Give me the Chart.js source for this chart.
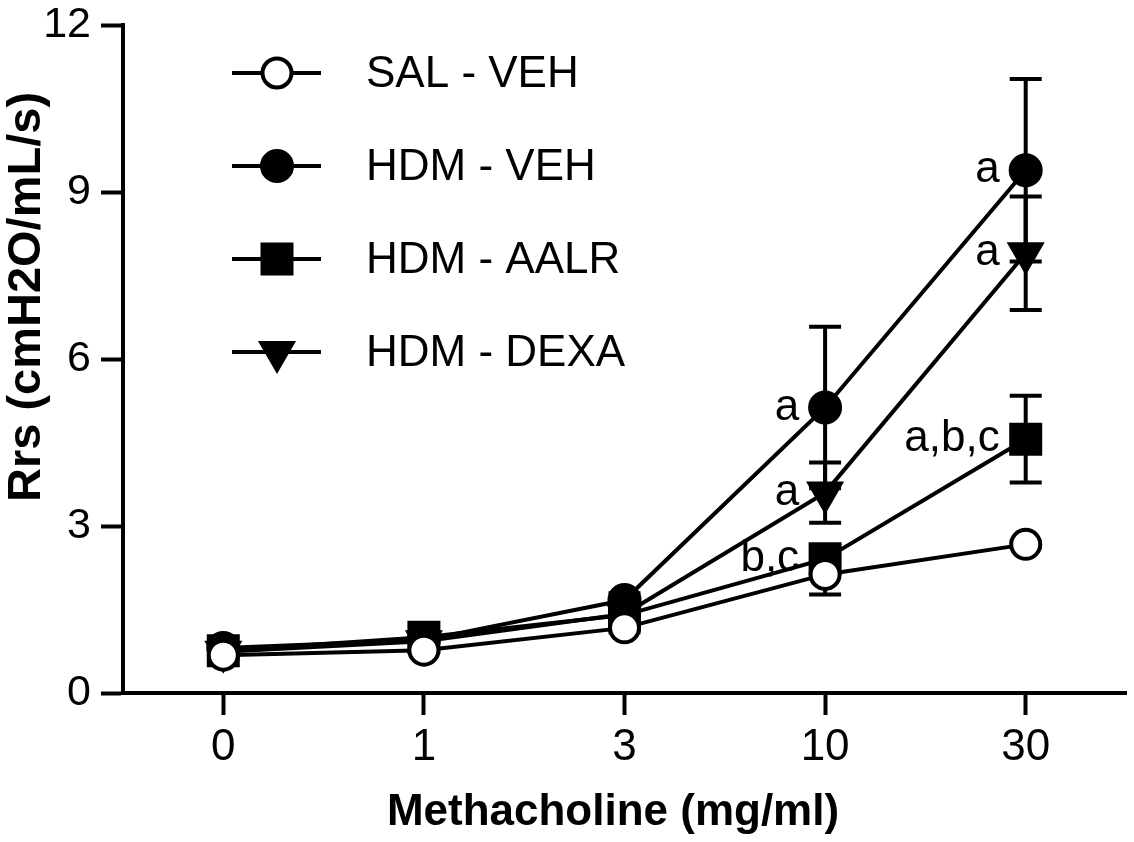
<!DOCTYPE html>
<html>
<head>
<meta charset="utf-8">
<title>Rrs vs Methacholine</title>
<script src="https://cdn.jsdelivr.net/npm/chart.js@4.4.1/dist/chart.umd.min.js"></script>
<style>
    html, body { margin: 0; padding: 0; background: #fff; }
    #wrap { width: 1134px; height: 842px; }
</style>
</head>
<body>
<div id="wrap"><canvas id="rrsChart" width="1134" height="842"></canvas></div>
<script>
// Data (mean and SEM per dose)
const doses = ['0', '1', '3', '10', '30'];
const yTicks = [0, 3, 6, 9, 12];

const salVeh = [0.68, 0.77, 1.17, 2.13, 2.67];
const salVehErr = [0.05, 0.05, 0.08, 0.36, 0.05];

const hdmVeh = [0.81, 0.95, 1.67, 5.13, 9.39];
const hdmVehErr = [0.06, 0.06, 0.12, 1.45, 1.64];
const hdmVehSig = ['', '', '', 'a', 'a'];

const hdmAalr = [0.76, 1.0, 1.4, 2.41, 4.56];
const hdmAalrErr = [0.05, 0.06, 0.1, 0.25, 0.78];
const hdmAalrSig = ['', '', '', 'b,c', 'a,b,c'];

const hdmDexa = [0.74, 0.93, 1.42, 3.6, 7.9];
const hdmDexaErr = [0.05, 0.05, 0.1, 0.54, 1.02];
const hdmDexaSig = ['', '', '', 'a', 'a'];

const FONT = '"Liberation Sans", Arial, Helvetica, sans-serif';

// draw one marker the same way the plot does
function drawMarker(ctx, style, r, rot, x, y) {
    ctx.beginPath();
    if (style === 'circle') {
        ctx.arc(x, y, r, 0, Math.PI * 2);
    } else if (style === 'rect') {
        const s = Math.SQRT1_2 * r;
        ctx.rect(x - s, y - s, 2 * s, 2 * s);
    } else if (style === 'triangle') {
        let rad = rot * Math.PI / 180;
        ctx.moveTo(x + Math.sin(rad) * r, y - Math.cos(rad) * r);
        rad += 2 * Math.PI / 3;
        ctx.lineTo(x + Math.sin(rad) * r, y - Math.cos(rad) * r);
        rad += 2 * Math.PI / 3;
        ctx.lineTo(x + Math.sin(rad) * r, y - Math.cos(rad) * r);
        ctx.closePath();
    }
    ctx.fill();
    ctx.stroke();
}

// SEM error bars, drawn under the markers
const errorBars = {
    id: 'errorBars',
    beforeDatasetsDraw(chart) {
        const ctx = chart.ctx;
        const xs = chart.scales.x;
        const ys = chart.scales.y;
        ctx.save();
        ctx.strokeStyle = '#000';
        ctx.lineWidth = 4;
        chart.data.datasets.forEach((ds) => {
            ds.data.forEach((v, i) => {
                const x = xs.getPixelForValue(i);
                const top = ys.getPixelForValue(v + ds.err[i]);
                const bot = ys.getPixelForValue(v - ds.err[i]);
                ctx.beginPath();
                ctx.moveTo(x, top);
                ctx.lineTo(x, bot);
                ctx.moveTo(x - 16, top);
                ctx.lineTo(x + 16, top);
                ctx.moveTo(x - 16, bot);
                ctx.lineTo(x + 16, bot);
                ctx.stroke();
            });
        });
        ctx.restore();
    }
};

// significance letters, legend and axis titles
const extras = {
    id: 'extras',
    afterDatasetsDraw(chart) {
        const ctx = chart.ctx;
        const xs = chart.scales.x;
        const ys = chart.scales.y;
        ctx.save();
        ctx.fillStyle = '#000';
        ctx.font = '44px ' + FONT;
        ctx.textAlign = 'right';
        ctx.textBaseline = 'middle';
        chart.data.datasets.forEach((ds) => {
            if (!ds.sig) return;
            ds.sig.forEach((s, i) => {
                if (!s) return;
                ctx.fillText(s, xs.getPixelForValue(i) - 26, ys.getPixelForValue(ds.data[i]));
            });
        });

        // legend
        ctx.textAlign = 'left';
        chart.data.datasets.forEach((ds, k) => {
            const y = 73 + k * 93;
            ctx.strokeStyle = '#000';
            ctx.lineWidth = 4;
            ctx.beginPath();
            ctx.moveTo(232, y);
            ctx.lineTo(321, y);
            ctx.stroke();
            ctx.fillStyle = ds.pointBackgroundColor;
            drawMarker(ctx, ds.pointStyle, ds.pointRadius, ds.pointRotation || 0, 277, y);
            ctx.fillStyle = '#000';
            ctx.fillText(ds.label, 366, y + 2);
        });

        // axis titles
        ctx.textAlign = 'center';
        ctx.textBaseline = 'alphabetic';
        ctx.font = 'bold 44px ' + FONT;
        ctx.fillText('Methacholine (mg/ml)', 613, 825);
        ctx.font = 'bold 47px ' + FONT;
        ctx.translate(40, 297);
        ctx.rotate(-Math.PI / 2);
        ctx.fillText('Rrs (cmH2O/mL/s)', 0, 0);
        ctx.restore();
    }
};

const lineDefaults = {
    borderColor: '#000',
    borderWidth: 4,
    pointBorderColor: '#000',
    pointBorderWidth: 4,
    pointHoverRadius: 0,
    tension: 0,
    fill: false
};

const ctx = document.getElementById('rrsChart').getContext('2d');

const rrsChart = new Chart(ctx, {
    type: 'line',
    data: {
        labels: doses,
        datasets: [
            Object.assign({}, lineDefaults, {
                label: 'SAL - VEH',
                data: salVeh,
                err: salVehErr,
                pointStyle: 'circle',
                pointRadius: 14.5,
                pointBackgroundColor: '#fff'
            }),
            Object.assign({}, lineDefaults, {
                label: 'HDM - VEH',
                data: hdmVeh,
                err: hdmVehErr,
                sig: hdmVehSig,
                pointStyle: 'circle',
                pointRadius: 15,
                pointBackgroundColor: '#000'
            }),
            Object.assign({}, lineDefaults, {
                label: 'HDM - AALR',
                data: hdmAalr,
                err: hdmAalrErr,
                sig: hdmAalrSig,
                pointStyle: 'rect',
                pointRadius: 20.5,
                pointBackgroundColor: '#000'
            }),
            Object.assign({}, lineDefaults, {
                label: 'HDM - DEXA',
                data: hdmDexa,
                err: hdmDexaErr,
                sig: hdmDexaSig,
                pointStyle: 'triangle',
                pointRotation: 180,
                pointRadius: 18,
                pointBackgroundColor: '#000'
            })
        ]
    },
    options: {
        responsive: false,
        animation: false,
        devicePixelRatio: 1,
        layout: {
            autoPadding: false,
            padding: { top: 25, right: 8, bottom: 0, left: 0 }
        },
        scales: {
            x: {
                type: 'category',
                offset: true,
                afterFit: (scale) => {
                    scale.height = 149;
                    scale.paddingLeft = 0;
                    scale.paddingRight = 0;
                },
                border: { display: true, color: '#000', width: 4 },
                grid: {
                    offset: false,
                    drawOnChartArea: false,
                    drawTicks: true,
                    tickLength: 22,
                    tickWidth: 4,
                    tickColor: '#000'
                },
                ticks: {
                    color: '#000',
                    padding: 6,
                    maxRotation: 0,
                    font: { family: FONT, size: 44 }
                }
            },
            y: {
                min: 0,
                max: 12,
                afterFit: (scale) => {
                    scale.width = 123;
                    scale.paddingTop = 0;
                    scale.paddingBottom = 0;
                },
                afterBuildTicks: (scale) => {
                    scale.ticks = yTicks.map((v) => ({ value: v }));
                },
                border: { display: true, color: '#000', width: 4 },
                grid: {
                    drawOnChartArea: false,
                    drawTicks: true,
                    tickLength: 22,
                    tickWidth: 4,
                    tickColor: '#000'
                },
                ticks: {
                    color: '#000',
                    padding: 10,
                    font: { family: FONT, size: 43 }
                }
            }
        },
        plugins: {
            legend: { display: false },
            tooltip: { enabled: false }
        }
    },
    plugins: [errorBars, extras]
});
</script>
</body>
</html>
